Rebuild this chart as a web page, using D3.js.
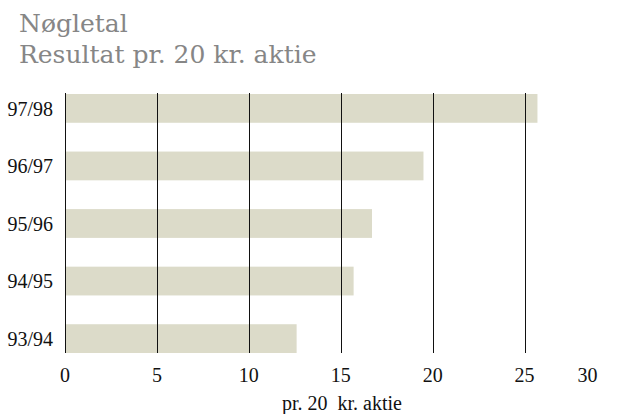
<!DOCTYPE html>
<html>
<head>
<meta charset="utf-8">
<title>Nøgletal</title>
<script src="https://d3js.org/d3.v7.min.js"></script>
<style>
  body { margin: 0; background: #fff; }
  text { font-family: "Liberation Serif", "DejaVu Serif", serif; }
</style>
</head>
<body>
<div id="chart"></div>
<script>
// regnskabsaar, oeverst foerst
var years = ["97/98", "96/97", "95/96", "94/95", "93/94"];
var values = [25.7, 19.5, 16.7, 15.7, 12.6];
var ticks = [0, 5, 10, 15, 20, 25, 30];

var W = 617, H = 414;
var svg = d3.select("#chart").append("svg")
    .attr("width", W).attr("height", H);

svg.append("text").attr("x", 19).attr("y", 32)
    .attr("fill", "#868686").style("font-size", "25px")
    .style("font-family", "'DejaVu Serif', serif")
    .text("Nøgletal");
svg.append("text").attr("x", 19).attr("y", 63)
    .attr("fill", "#868686").style("font-size", "25px")
    .style("font-family", "'DejaVu Serif', serif")
    .text("Resultat pr. 20 kr. aktie");

var x = d3.scaleLinear().domain([0, 30]).range([65, 616.5]);
var y = d3.scaleBand().domain(years).range([94, 353]).paddingInner(0.5).paddingOuter(0);

// bars
svg.selectAll("rect.bar")
    .data(years)
    .enter().append("rect")
    .attr("class", "bar")
    .attr("x", x(0))
    .attr("y", function(d) { return y(d); })
    .attr("width", function(d, i) { return x(values[i]) - x(0); })
    .attr("height", y.bandwidth())
    .attr("fill", "#dcdbc9");

// grid lines on top of bars
svg.selectAll("line.grid")
    .data(ticks)
    .enter().append("line")
    .attr("class", "grid")
    .attr("x1", function(d) { return Math.round(x(d)) + 0.5; })
    .attr("x2", function(d) { return Math.round(x(d)) + 0.5; })
    .attr("y1", 93).attr("y2", 353)
    .attr("stroke", function(d) { return d == 30 ? "#888" : "#111"; })
    .attr("stroke-width", 1);

// category labels
svg.selectAll("text.cat")
    .data(years)
    .enter().append("text")
    .attr("class", "cat")
    .attr("x", 53)
    .attr("y", function(d) { return y(d) + y.bandwidth() / 2; })
    .attr("dy", "0.36em")
    .attr("text-anchor", "end")
    .attr("fill", "#111")
    .style("font-size", "20px")
    .text(function(d) { return d; });

// tick labels (30 sits left of its line in the original)
svg.selectAll("text.tick")
    .data(ticks)
    .enter().append("text")
    .attr("class", "tick")
    .attr("x", function(d) { return x(d); })
    .attr("dx", function(d) { return d == 30 ? -29 : 0; })
    .attr("y", 382)
    .attr("text-anchor", "middle")
    .attr("fill", "#111")
    .style("font-size", "20px")
    .text(function(d) { return d; });

svg.append("text")
    .attr("x", 342).attr("y", 410)
    .attr("text-anchor", "middle")
    .attr("fill", "#111")
    .style("font-size", "20px")
    .style("white-space", "pre")
    .text("pr. 20  kr. aktie");
</script>
</body>
</html>
